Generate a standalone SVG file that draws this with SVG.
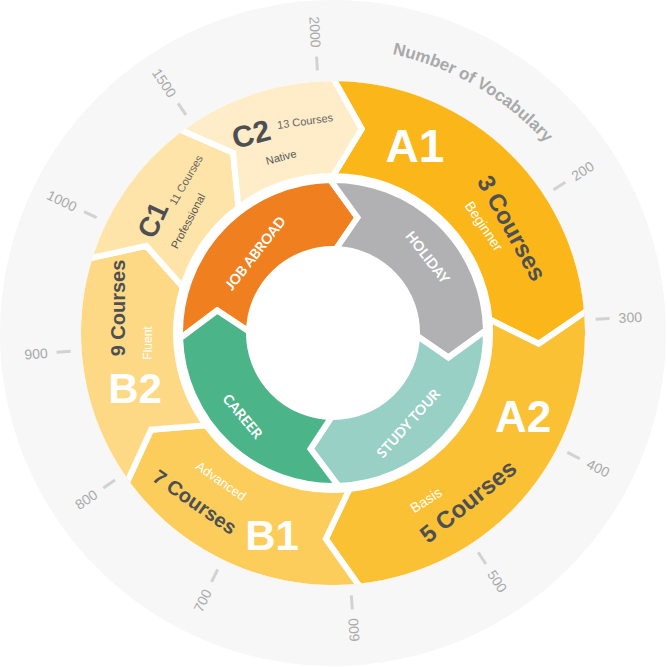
<svg xmlns="http://www.w3.org/2000/svg" width="667" height="667" viewBox="0 0 667 667">
<style>
.seg{stroke:#fff;stroke-width:6;stroke-linejoin:miter}
.tick{stroke:#D2D2D2;stroke-width:3}
.num{font-family:"Liberation Sans",Arial,sans-serif;font-size:14px;fill:#A9A9A9;dominant-baseline:central}
.big{font-family:"Liberation Sans",Arial,sans-serif;font-weight:bold;fill:#fff;text-anchor:middle;dominant-baseline:central}
.dk{font-family:"Liberation Sans",Arial,sans-serif;font-weight:bold;fill:#4D4F53;text-anchor:middle;dominant-baseline:central}
.sm{font-family:"Liberation Sans",Arial,sans-serif;text-anchor:middle;dominant-baseline:central}
.in{font-family:Lato,"Liberation Sans",sans-serif;font-size:14px;font-weight:bold;fill:#fff;text-anchor:middle;dominant-baseline:central}
</style>
<defs>
<clipPath id="ring"><circle cx="333" cy="333" r="252"/></clipPath>
<path id="arc" d="M 392.3 54.2 A 285 285 0 0 1 579.8 190.5"/>
</defs>
<circle cx="333" cy="333" r="333" fill="#F7F7F7"/>
<circle cx="333" cy="333" r="252" fill="#fff"/>
<g id="ticks">
<line class="tick" x1="333" y1="56" x2="333" y2="70" transform="rotate(-3.4 333 333)"/>
<line class="tick" x1="333" y1="56" x2="333" y2="70" transform="rotate(-34 333 333)"/>
<line class="tick" x1="333" y1="56" x2="333" y2="70" transform="rotate(-64 333 333)"/>
<line class="tick" x1="333" y1="56" x2="333" y2="70" transform="rotate(-94 333 333)"/>
<line class="tick" x1="333" y1="56" x2="333" y2="70" transform="rotate(-124 333 333)"/>
<line class="tick" x1="333" y1="56" x2="333" y2="70" transform="rotate(-154 333 333)"/>
<line class="tick" x1="333" y1="56" x2="333" y2="70" transform="rotate(176 333 333)"/>
<line class="tick" x1="333" y1="56" x2="333" y2="70" transform="rotate(57 333 333)"/>
<line class="tick" x1="333" y1="56" x2="333" y2="70" transform="rotate(87 333 333)"/>
<line class="tick" x1="333" y1="56" x2="333" y2="70" transform="rotate(117 333 333)"/>
<line class="tick" x1="333" y1="56" x2="333" y2="70" transform="rotate(146.5 333 333)"/>
<text class="num" text-anchor="end" transform="rotate(-3.4 333 333) translate(333 47) rotate(90)">2000</text>
<text class="num" text-anchor="end" transform="rotate(-34 333 333) translate(333 47) rotate(90)">1500</text>
<text class="num" text-anchor="end" transform="rotate(-64 333 333) translate(333 47) rotate(90)">1000</text>
<text class="num" text-anchor="end" transform="rotate(-94 333 333) translate(333 47) rotate(90)">900</text>
<text class="num" text-anchor="end" transform="rotate(-124 333 333) translate(333 47) rotate(90)">800</text>
<text class="num" text-anchor="end" transform="rotate(-154 333 333) translate(333 47) rotate(90)">700</text>
<text class="num" text-anchor="end" transform="rotate(176 333 333) translate(333 47) rotate(90)">600</text>
<text class="num" transform="rotate(57 333 333) translate(333 47) rotate(-90)">200</text>
<text class="num" transform="rotate(87 333 333) translate(333 47) rotate(-90)">300</text>
<text class="num" transform="rotate(117 333 333) translate(333 47) rotate(-90)">400</text>
<text class="num" transform="rotate(146.5 333 333) translate(333 47) rotate(-90)">500</text>
<text font-family="Liberation Sans,Arial,sans-serif" font-size="17" font-weight="bold" fill="#A9A9A9"><textPath href="#arc">Number of Vocabulary</textPath></text>
</g>
<g clip-path="url(#ring)">
<g id="A1"><path class="seg" fill="#FBB719" d="M333,78 A255,255 0 0 1 587,310.8 L538.7,343.8 L489.4,319.3 A157,157 0 0 0 333,176 L361.7,129 Z"/></g>
<g id="A2"><path class="seg" fill="#FBC135" d="M587,310.8 A255,255 0 0 1 359.6,586.6 L325.8,538.9 L349.4,489.1 A157,157 0 0 0 489.4,319.3 L538.7,343.8 Z"/></g>
<g id="B1"><path class="seg" fill="#FCCD5A" d="M359.6,586.6 A255,255 0 0 1 126.7,482.9 L151.1,429.7 L206,425.3 A157,157 0 0 0 349.4,489.1 L325.8,538.9 Z"/></g>
<g id="B2"><path class="seg" fill="#FDD985" d="M126.7,482.9 A255,255 0 0 1 89.1,258.4 L146.3,245.9 L182.9,287.1 A157,157 0 0 0 206,425.3 L151.1,429.7 Z"/></g>
<g id="C1"><path class="seg" fill="#FEE4A8" d="M89.1,258.4 A255,255 0 0 1 179.5,129.4 L233.1,152.8 L238.5,207.6 A157,157 0 0 0 182.9,287.1 L146.3,245.9 Z"/></g>
<g id="C2"><path class="seg" fill="#FEEDC8" d="M179.5,129.4 A255,255 0 0 1 333,78 L361.7,129 L333,176 A157,157 0 0 0 238.5,207.6 L233.1,152.8 Z"/></g>
</g>
<g id="inner">
<g id="job"><path class="seg" fill="#EF7F1F" d="M180.1,338.3 A153,153 0 0 1 330.3,180 L357.5,217.6 L335.9,249.1 A84,84 0 0 0 249,331.5 L217.2,310.5 Z"/></g>
<g id="holiday"><path class="seg" fill="#B1B1B3" d="M330.3,180 A153,153 0 0 1 486,330.3 L448.4,357.5 L417,335.9 A84,84 0 0 0 335.9,249.1 L357.5,217.6 Z"/></g>
<g id="study"><path class="seg" fill="#98D0C6" d="M486,330.3 A153,153 0 0 1 338.3,485.9 L310.5,448.8 L331.5,417 A84,84 0 0 0 417,335.9 L448.4,357.5 Z"/></g>
<g id="career"><path class="seg" fill="#4CB489" d="M338.3,485.9 A153,153 0 0 1 180.1,338.3 L217.2,310.5 L249,331.5 A84,84 0 0 0 331.5,417 L310.5,448.8 Z"/></g>
</g>
<g id="labels">
<text class="big" font-size="46" x="415" y="146">A1</text>
<text class="dk" font-size="24" transform="translate(512 228) rotate(61)">3 Courses</text>
<text class="sm" font-size="14" fill="#fff" transform="translate(484 226) rotate(56)">Beginner</text>
<text class="big" font-size="44" x="523" y="416">A2</text>
<text class="dk" font-size="24" transform="translate(468 501) rotate(-39)">5 Courses</text>
<text class="sm" font-size="14" fill="#fff" transform="translate(426 500) rotate(-33)">Basis</text>
<text class="big" font-size="42" x="272" y="535">B1</text>
<text class="dk" font-size="20" transform="translate(195 502) rotate(35)">7 Courses</text>
<text class="sm" font-size="13" fill="#fff" transform="translate(221 481) rotate(35)">Advanced</text>
<text class="big" font-size="42" x="135" y="388">B2</text>
<text class="dk" font-size="20" transform="translate(118 308) rotate(-90)">9 Courses</text>
<text class="sm" font-size="12" fill="#fff" transform="translate(148 343) rotate(-90)">Fluent</text>
<text class="dk" font-size="28" transform="translate(153 220) rotate(-65)">C1</text>
<text class="sm" font-size="11" fill="#666" transform="translate(186 180) rotate(-60)">11 Courses</text>
<text class="sm" font-size="11" fill="#555" transform="translate(188 221) rotate(-62)">Professional</text>
<text class="dk" font-size="30" transform="translate(251 134) rotate(-15)">C2</text>
<text class="sm" font-size="11" fill="#666" transform="translate(305 121) rotate(-8)">13 Courses</text>
<text class="sm" font-size="11" fill="#555" transform="translate(281 157) rotate(-15)">Native</text>
<text class="in" transform="translate(255 253) rotate(-52)">JOB ABROAD</text>
<text class="in" transform="translate(428 257) rotate(52)">HOLIDAY</text>
<text class="in" transform="translate(243 416) rotate(50)">CAREER</text>
<text class="in" transform="translate(408 423) rotate(-48)">STUDY TOUR</text>
</g>
</svg>
